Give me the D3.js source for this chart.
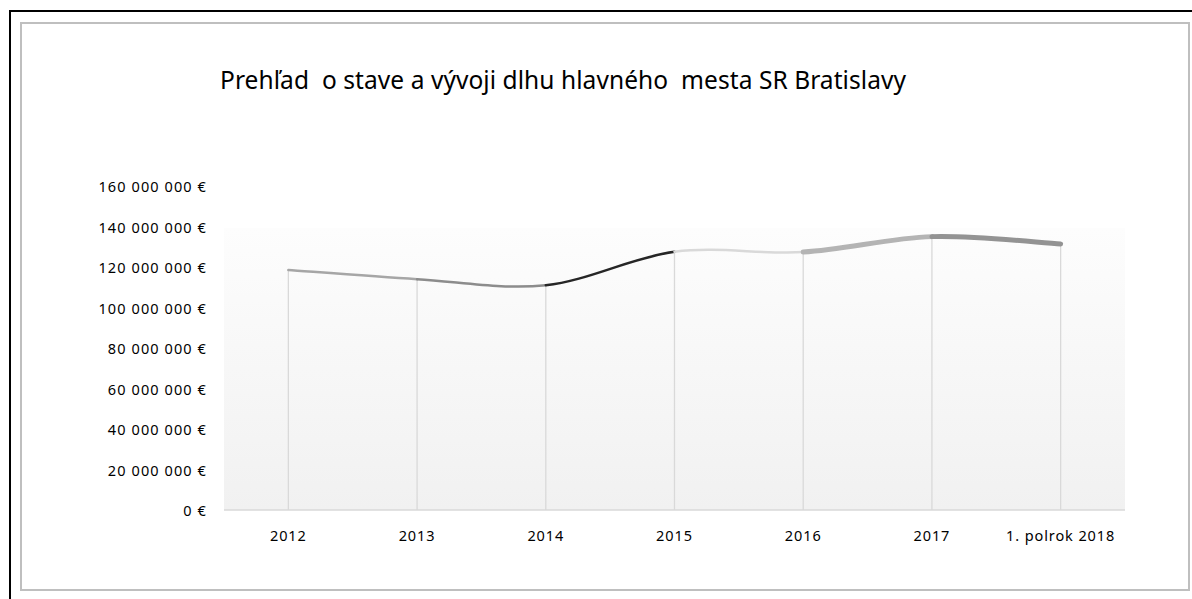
<!DOCTYPE html>
<html>
<head>
<meta charset="utf-8">
<script src="https://cdn.jsdelivr.net/npm/d3@7"></script>
<style>
  html, body { margin: 0; padding: 0; background: #fff; }
  svg { display: block; }
  text { font-family: "Noto Sans", "Open Sans", sans-serif; fill: #000; }
</style>
</head>
<body>
<svg id="chart" width="1192" height="599"></svg>
<script>
// ---- data ----
const categories = ["2012", "2013", "2014", "2015", "2016", "2017", "1. polrok 2018"];
const debtValues = [118500000, 114000000, 111000000, 127500000, 127400000, 135000000, 131400000];
const yTicks = [0, 20000000, 40000000, 60000000, 80000000, 100000000, 120000000, 140000000, 160000000];
const titleText = "Prehľad  o stave a vývoji dlhu hlavného  mesta SR Bratislavy";
const segmentColors = ["#a6a6a6", "#8c8c8c", "#262626", "#d9d9d9", "#b4b4b4", "#939393"];
const segmentWidths = [2.5, 2.5, 2.5, 2.5, 5, 5];

// ---- layout ----
const svg = d3.select("#chart");
const plot = { left: 224, right: 1125, top: 186, bottom: 510, fillTop: 228 };

const x = d3.scaleBand().domain(categories).range([plot.left, plot.right]).padding(0);
const y = d3.scaleLinear().domain([0, 160000000]).range([plot.bottom, plot.top]);
const cx = c => x(c) + x.bandwidth() / 2;

// borders
svg.append("line").attr("x1", 10).attr("y1", 11).attr("x2", 1192).attr("y2", 11)
  .attr("stroke", "#000").attr("stroke-width", 2);
svg.append("line").attr("x1", 10).attr("y1", 10).attr("x2", 10).attr("y2", 599)
  .attr("stroke", "#000").attr("stroke-width", 2);
svg.append("rect").attr("x", 21).attr("y", 23).attr("width", 1168).attr("height", 567)
  .attr("fill", "#fff").attr("stroke", "#bfbfbf").attr("stroke-width", 2);

// plot area gradient
const defs = svg.append("defs");
const grad = defs.append("linearGradient").attr("id", "pg").attr("x1", 0).attr("y1", 0).attr("x2", 0).attr("y2", 1);
grad.append("stop").attr("offset", "0%").attr("stop-color", "#fdfdfd");
grad.append("stop").attr("offset", "100%").attr("stop-color", "#f1f1f1");
svg.append("rect").attr("x", plot.left).attr("y", plot.fillTop)
  .attr("width", plot.right - plot.left).attr("height", plot.bottom - plot.fillTop)
  .attr("fill", "url(#pg)");

// title
svg.append("text")
  .attr("x", 220).attr("y", 89)
  .attr("xml:space", "preserve")
  .style("white-space", "pre")
  .attr("font-size", 24.5)
  .attr("textLength", 686).attr("lengthAdjust", "spacing")
  .text(titleText);

// y axis labels
const fmt = v => d3.format(",")(v).replace(/,/g, " ") + " €";
svg.append("g").selectAll("text").data(yTicks).join("text")
  .attr("x", 207).attr("y", d => y(d) + 6)
  .attr("text-anchor", "end")
  .attr("font-size", 14.5)
  .attr("letter-spacing", 1.1)
  .text(d => fmt(d));

// drop lines
svg.append("g").selectAll("line").data(categories).join("line")
  .attr("x1", d => cx(d)).attr("x2", d => cx(d))
  .attr("y1", (d, i) => y(debtValues[i])).attr("y2", plot.bottom)
  .attr("stroke", "#d9d9d9").attr("stroke-width", 1.3);

// baseline
svg.append("line").attr("x1", plot.left).attr("x2", plot.right)
  .attr("y1", plot.bottom).attr("y2", plot.bottom)
  .attr("stroke", "#d9d9d9").attr("stroke-width", 1.5);

// x labels
svg.append("g").selectAll("text").data(categories).join("text")
  .attr("x", d => cx(d)).attr("y", 541)
  .attr("text-anchor", "middle")
  .attr("font-size", 14.5)
  .attr("letter-spacing", 0.9)
  .text(d => d);

// smooth line segments (Catmull-Rom style as in Excel smoothing)
const pts = categories.map((c, i) => [cx(c), y(debtValues[i])]);
const n = pts.length;
for (let i = 0; i < n - 1; i++) {
  const p0 = pts[Math.max(i - 1, 0)], p1 = pts[i], p2 = pts[i + 1], p3 = pts[Math.min(i + 2, n - 1)];
  const c1 = [p1[0] + (p2[0] - p0[0]) / 6, p1[1] + (p2[1] - p0[1]) / 6];
  const c2 = [p2[0] - (p3[0] - p1[0]) / 6, p2[1] - (p3[1] - p1[1]) / 6];
  const p = d3.path();
  p.moveTo(p1[0], p1[1]);
  p.bezierCurveTo(c1[0], c1[1], c2[0], c2[1], p2[0], p2[1]);
  svg.append("path").attr("d", p.toString())
    .attr("fill", "none")
    .attr("stroke", segmentColors[i])
    .attr("stroke-width", segmentWidths[i])
    .attr("stroke-linecap", "round");
}
</script>
</body>
</html>
